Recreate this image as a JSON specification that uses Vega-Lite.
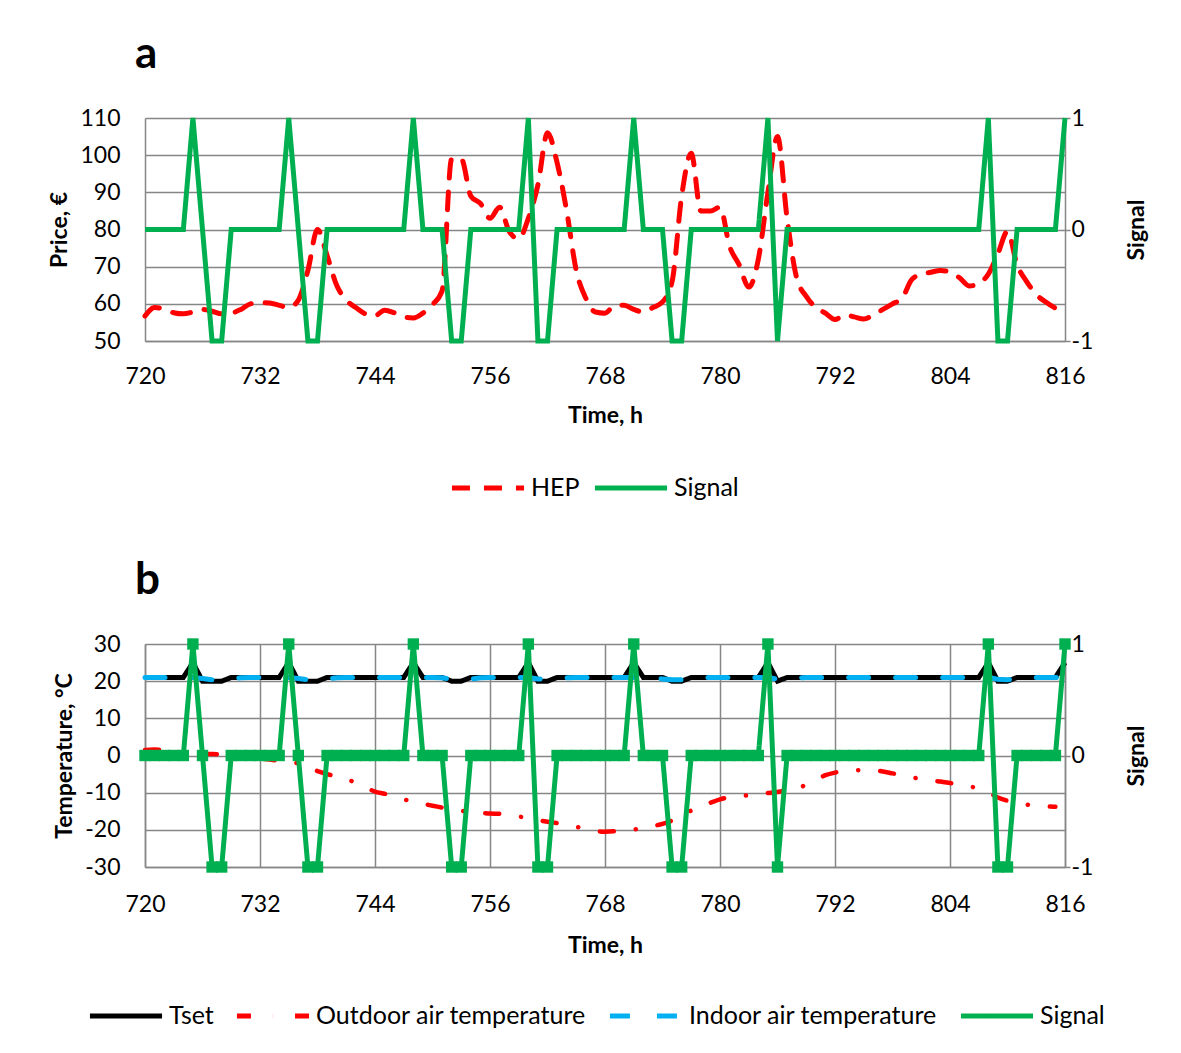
{
  "$schema": "https://vega.github.io/schema/vega-lite/v6.json",
  "background": "white",
  "padding": {"left": 48, "top": 33, "right": 5, "bottom": 5},
  "config": {
    "font": "Lato",
    "view": {"stroke": null},
    "axis": {
      "labelFont": "Lato", "labelFontSize": 23, "labelColor": "#000000",
      "titleFont": "Lato", "titleFontSize": 23, "titleFontWeight": "bold", "titleColor": "#000000",
      "gridColor": "#868686", "gridWidth": 1.5, "gridOpacity": 1,
      "domainColor": "#868686", "domainWidth": 1.5,
      "tickColor": "#868686", "tickWidth": 1.5, "ticks": false,
      "labelExpr": "'' + datum.value", "labelFlush": false, "labelOverlap": false
    },
    "legend": {
      "direction": "horizontal", "symbolType": "stroke",
      "symbolSize": 5200, "symbolStrokeWidth": 5, "labelFont": "Lato", "labelFontSize": 25,
      "labelColor": "#000000", "columnPadding": 12, "labelOffset": 4, "labelLimit": 400
    }
  },
  "datasets": {
    "hourly": [
      {"h":720,"hep":56.7,"sig":0,"tset":21,"tin":21,"tout":1.5},
      {"h":721,"hep":59,"sig":0,"tset":21,"tin":21,"tout":1.6},
      {"h":722,"hep":58.6,"sig":0,"tset":21,"tin":21,"tout":1.4},
      {"h":723,"hep":57.6,"sig":0,"tset":21,"tin":21,"tout":1.2},
      {"h":724,"hep":57.3,"sig":0,"tset":21,"tin":21,"tout":0.8},
      {"h":725,"hep":57.8,"sig":1,"tset":25,"tin":21,"tout":0.5},
      {"h":726,"hep":58.5,"sig":0,"tset":20,"tin":20.7,"tout":0.4},
      {"h":727,"hep":58,"sig":-1,"tset":20,"tin":20.4,"tout":0.4},
      {"h":728,"hep":57.3,"sig":-1,"tset":20,"tin":20.4,"tout":0.2},
      {"h":729,"hep":57.5,"sig":0,"tset":21,"tin":20.6,"tout":0},
      {"h":730,"hep":58.5,"sig":0,"tset":21,"tin":20.9,"tout":-0.2},
      {"h":731,"hep":60,"sig":0,"tset":21,"tin":21,"tout":-0.5},
      {"h":732,"hep":60.3,"sig":0,"tset":21,"tin":21,"tout":-0.8},
      {"h":733,"hep":60.2,"sig":0,"tset":21,"tin":21,"tout":-1.1},
      {"h":734,"hep":59.6,"sig":0,"tset":21,"tin":21,"tout":-1.4},
      {"h":735,"hep":59,"sig":1,"tset":25,"tin":21,"tout":-1.8},
      {"h":736,"hep":61,"sig":0,"tset":20,"tin":20.7,"tout":-2.1},
      {"h":737,"hep":69,"sig":-1,"tset":20,"tin":20.4,"tout":-3},
      {"h":738,"hep":80,"sig":-1,"tset":20,"tin":20.4,"tout":-4.2},
      {"h":739,"hep":73,"sig":0,"tset":21,"tin":20.6,"tout":-5},
      {"h":740,"hep":65,"sig":0,"tset":21,"tin":20.9,"tout":-5.7},
      {"h":741,"hep":61,"sig":0,"tset":21,"tin":21,"tout":-6.3},
      {"h":742,"hep":59,"sig":0,"tset":21,"tin":21,"tout":-7.4},
      {"h":743,"hep":57.3,"sig":0,"tset":21,"tin":21,"tout":-8.6},
      {"h":744,"hep":56.8,"sig":0,"tset":21,"tin":21,"tout":-9.7},
      {"h":745,"hep":58.3,"sig":0,"tset":21,"tin":21,"tout":-10.3},
      {"h":746,"hep":57.6,"sig":0,"tset":21,"tin":21,"tout":-11},
      {"h":747,"hep":56.5,"sig":0,"tset":21,"tin":21,"tout":-11.8},
      {"h":748,"hep":56.2,"sig":1,"tset":25,"tin":21,"tout":-12.4},
      {"h":749,"hep":57.5,"sig":0,"tset":21,"tin":21,"tout":-13},
      {"h":750,"hep":59.8,"sig":0,"tset":21,"tin":21,"tout":-13.5},
      {"h":751,"hep":63.5,"sig":0,"tset":21,"tin":20.9,"tout":-14},
      {"h":752,"hep":99,"sig":-1,"tset":20,"tin":20.5,"tout":-14.5},
      {"h":753,"hep":99,"sig":-1,"tset":20,"tin":20.4,"tout":-14.9},
      {"h":754,"hep":89,"sig":0,"tset":21,"tin":20.6,"tout":-15.2},
      {"h":755,"hep":87,"sig":0,"tset":21,"tin":20.9,"tout":-15.4},
      {"h":756,"hep":83,"sig":0,"tset":21,"tin":21,"tout":-15.6},
      {"h":757,"hep":86,"sig":0,"tset":21,"tin":21,"tout":-15.7},
      {"h":758,"hep":79.5,"sig":0,"tset":21,"tin":21,"tout":-16},
      {"h":759,"hep":77.5,"sig":0,"tset":21,"tin":21,"tout":-16.4},
      {"h":760,"hep":83,"sig":1,"tset":25,"tin":21,"tout":-16.9},
      {"h":761,"hep":92,"sig":-1,"tset":20,"tin":20.6,"tout":-17.4},
      {"h":762,"hep":106,"sig":-1,"tset":20,"tin":20.4,"tout":-17.8},
      {"h":763,"hep":98,"sig":0,"tset":21,"tin":20.6,"tout":-18.2},
      {"h":764,"hep":85,"sig":0,"tset":21,"tin":20.9,"tout":-18.7},
      {"h":765,"hep":69,"sig":0,"tset":21,"tin":21,"tout":-19.2},
      {"h":766,"hep":61.5,"sig":0,"tset":21,"tin":21,"tout":-19.8},
      {"h":767,"hep":57.8,"sig":0,"tset":21,"tin":21,"tout":-20.3},
      {"h":768,"hep":57.5,"sig":0,"tset":21,"tin":21,"tout":-20.5},
      {"h":769,"hep":59.5,"sig":0,"tset":21,"tin":21,"tout":-20.4},
      {"h":770,"hep":59.6,"sig":0,"tset":21,"tin":21,"tout":-20.2},
      {"h":771,"hep":58.5,"sig":1,"tset":25,"tin":21,"tout":-19.9},
      {"h":772,"hep":57.8,"sig":0,"tset":21,"tin":20.9,"tout":-19.5},
      {"h":773,"hep":59,"sig":0,"tset":21,"tin":20.8,"tout":-19},
      {"h":774,"hep":60.5,"sig":0,"tset":21,"tin":20.6,"tout":-18.4},
      {"h":775,"hep":66,"sig":-1,"tset":20,"tin":20.4,"tout":-17.5},
      {"h":776,"hep":89,"sig":-1,"tset":20,"tin":20.4,"tout":-16.2},
      {"h":777,"hep":100.5,"sig":0,"tset":21,"tin":20.6,"tout":-14.8},
      {"h":778,"hep":85,"sig":0,"tset":21,"tin":20.9,"tout":-13.6},
      {"h":779,"hep":85,"sig":0,"tset":21,"tin":21,"tout":-12.7},
      {"h":780,"hep":86,"sig":0,"tset":21,"tin":21,"tout":-11.8},
      {"h":781,"hep":75.5,"sig":0,"tset":21,"tin":21,"tout":-11.2},
      {"h":782,"hep":70.5,"sig":0,"tset":21,"tin":21,"tout":-10.9},
      {"h":783,"hep":64.5,"sig":0,"tset":21,"tin":21,"tout":-10.7},
      {"h":784,"hep":72,"sig":0,"tset":21,"tin":21,"tout":-10.4},
      {"h":785,"hep":90,"sig":1,"tset":25,"tin":21,"tout":-10.1},
      {"h":786,"hep":105,"sig":-1,"tset":20,"tin":20.5,"tout":-9.8},
      {"h":787,"hep":83,"sig":0,"tset":21,"tin":20.6,"tout":-9.4},
      {"h":788,"hep":67,"sig":0,"tset":21,"tin":20.9,"tout":-8.8},
      {"h":789,"hep":62,"sig":0,"tset":21,"tin":21,"tout":-7.9},
      {"h":790,"hep":59,"sig":0,"tset":21,"tin":21,"tout":-6.6},
      {"h":791,"hep":57.5,"sig":0,"tset":21,"tin":21,"tout":-5.3},
      {"h":792,"hep":55.8,"sig":0,"tset":21,"tin":21,"tout":-4.6},
      {"h":793,"hep":57,"sig":0,"tset":21,"tin":21,"tout":-4.2},
      {"h":794,"hep":56.5,"sig":0,"tset":21,"tin":21,"tout":-4},
      {"h":795,"hep":55.9,"sig":0,"tset":21,"tin":21,"tout":-3.9},
      {"h":796,"hep":57,"sig":0,"tset":21,"tin":21,"tout":-4},
      {"h":797,"hep":58.5,"sig":0,"tset":21,"tin":21,"tout":-4.3},
      {"h":798,"hep":60,"sig":0,"tset":21,"tin":21,"tout":-4.8},
      {"h":799,"hep":61.5,"sig":0,"tset":21,"tin":21,"tout":-5.3},
      {"h":800,"hep":66.5,"sig":0,"tset":21,"tin":21,"tout":-5.9},
      {"h":801,"hep":68,"sig":0,"tset":21,"tin":21,"tout":-6.3},
      {"h":802,"hep":68.5,"sig":0,"tset":21,"tin":21,"tout":-6.7},
      {"h":803,"hep":69,"sig":0,"tset":21,"tin":21,"tout":-7},
      {"h":804,"hep":68.5,"sig":0,"tset":21,"tin":21,"tout":-7.4},
      {"h":805,"hep":67,"sig":0,"tset":21,"tin":21,"tout":-7.8},
      {"h":806,"hep":64.8,"sig":0,"tset":21,"tin":21,"tout":-8.3},
      {"h":807,"hep":65.5,"sig":0,"tset":21,"tin":21,"tout":-8.9},
      {"h":808,"hep":68,"sig":1,"tset":25,"tin":21,"tout":-9.9},
      {"h":809,"hep":73.5,"sig":-1,"tset":20,"tin":20.5,"tout":-11.3},
      {"h":810,"hep":79.5,"sig":-1,"tset":20,"tin":20.4,"tout":-12.2},
      {"h":811,"hep":70.5,"sig":0,"tset":21,"tin":20.6,"tout":-12.9},
      {"h":812,"hep":66,"sig":0,"tset":21,"tin":20.9,"tout":-13.2},
      {"h":813,"hep":62.5,"sig":0,"tset":21,"tin":21,"tout":-13.5},
      {"h":814,"hep":60.5,"sig":0,"tset":21,"tin":21,"tout":-13.7},
      {"h":815,"hep":58.8,"sig":0,"tset":21,"tin":21,"tout":-13.8},
      {"h":816,"hep":null,"sig":1,"tset":25,"tin":21,"tout":null}
    ]
  },
  "vconcat": [
    {
      "width": 920, "height": 223,
      "title": {"text": "a", "anchor": "start", "frame": "group", "fontSize": 44, "fontWeight": "bold", "font": "Lato", "color": "#000000", "offset": 30, "dx": -10},
      "data": {"name": "hourly"},
      "layer": [
        {
          "mark": {"type": "line", "strokeWidth": 5, "strokeCap": "round", "interpolate": "monotone"},
          "encoding": {
            "x": {"field": "h", "type": "quantitative", "scale": {"domain": [720, 816], "nice": false},
                  "axis": {"title": "Time, h", "values": [720,732,744,756,768,780,792,804,816], "grid": false, "labelPadding": 24, "titlePadding": 16}},
            "y": {"field": "hep", "type": "quantitative", "scale": {"domain": [50, 110], "nice": false, "zero": false},
                  "axis": {"title": "Price, €", "values": [50,60,70,80,90,100,110], "grid": true, "labelPadding": 25, "titlePadding": 8}},
            "color": {"datum": "HEP", "type": "nominal", "scale": {"domain": ["HEP", "Signal"], "range": ["#FF0000", "#00B050"]},
                      "legend": {"title": null, "orient": "none", "legendX": 304, "legendY": 331, "columnPadding": 4}},
            "strokeDash": {"datum": "HEP", "type": "nominal", "scale": {"domain": ["HEP", "Signal"], "range": [[18, 14], [1, 0]]},
                      "legend": {"title": null, "orient": "none", "legendX": 304, "legendY": 331, "columnPadding": 4}}
          }
        },
        {
          "mark": {"type": "line", "strokeWidth": 5},
          "encoding": {
            "x": {"field": "h", "type": "quantitative"},
            "y": {"field": "sig", "type": "quantitative", "scale": {"domain": [-1, 1], "nice": false},
                  "axis": {"title": "Signal", "orient": "right", "values": [-1, 0, 1], "grid": false, "ticks": true, "tickSize": 5, "labelPadding": 1, "titlePadding": 56, "titleAngle": 270}},
            "color": {"datum": "Signal", "type": "nominal"},
            "strokeDash": {"datum": "Signal", "type": "nominal"}
          }
        }
      ],
      "resolve": {"scale": {"y": "independent"}}
    },
    {
      "width": 920, "height": 223,
      "title": {"text": "b", "anchor": "start", "frame": "group", "fontSize": 44, "fontWeight": "bold", "font": "Lato", "color": "#000000", "offset": 30, "dx": -10},
      "data": {"name": "hourly"},
      "layer": [
        {
          "mark": {"type": "line", "strokeWidth": 5},
          "encoding": {
            "x": {"field": "h", "type": "quantitative", "scale": {"domain": [720, 816], "nice": false},
                  "axis": {"title": "Time, h", "values": [720,732,744,756,768,780,792,804,816], "grid": true, "labelPadding": 26, "titlePadding": 18}},
            "y": {"field": "tset", "type": "quantitative", "scale": {"domain": [-30, 30], "nice": false},
                  "axis": {"title": "Temperature, °C", "values": [-30,-20,-10,0,10,20,30], "grid": true, "labelPadding": 25, "titlePadding": 8}},
            "color": {"datum": "Tset", "type": "nominal", "scale": {"domain": ["Tset", "Outdoor air temperature", "Indoor air temperature", "Signal"], "range": ["#000000", "#FF0000", "#00B0F0", "#00B050"]},
                      "legend": {"title": null, "orient": "none", "legendX": -58, "legendY": 333}},
            "strokeDash": {"datum": "Tset", "type": "nominal", "scale": {"domain": ["Tset", "Outdoor air temperature", "Indoor air temperature", "Signal"], "range": [[1, 0], [14, 22, 0.1, 22], [20, 27], [1, 0]]},
                      "legend": {"title": null, "orient": "none", "legendX": -58, "legendY": 333}}
          }
        },
        {
          "mark": {"type": "line", "strokeWidth": 4.5, "strokeCap": "round", "interpolate": "monotone"},
          "encoding": {
            "x": {"field": "h", "type": "quantitative"},
            "y": {"field": "tout", "type": "quantitative", "scale": {"domain": [-30, 30], "nice": false}, "axis": null},
            "color": {"datum": "Outdoor air temperature", "type": "nominal"},
            "strokeDash": {"datum": "Outdoor air temperature", "type": "nominal"}
          }
        },
        {
          "mark": {"type": "line", "strokeWidth": 5, "strokeCap": "round"},
          "encoding": {
            "x": {"field": "h", "type": "quantitative"},
            "y": {"field": "tin", "type": "quantitative", "scale": {"domain": [-30, 30], "nice": false}, "axis": null},
            "color": {"datum": "Indoor air temperature", "type": "nominal"},
            "strokeDash": {"datum": "Indoor air temperature", "type": "nominal"}
          }
        },
        {
          "mark": {"type": "line", "strokeWidth": 5, "point": {"shape": "square", "size": 130, "filled": true, "color": "#00B050", "opacity": 1}},
          "encoding": {
            "x": {"field": "h", "type": "quantitative"},
            "y": {"field": "sig", "type": "quantitative", "scale": {"domain": [-1, 1], "nice": false},
                  "axis": {"title": "Signal", "orient": "right", "values": [-1, 0, 1], "grid": false, "ticks": true, "tickSize": 5, "labelPadding": 1, "titlePadding": 56, "titleAngle": 270}},
            "color": {"datum": "Signal", "type": "nominal"},
            "strokeDash": {"datum": "Signal", "type": "nominal"}
          }
        }
      ],
      "resolve": {"scale": {"y": "independent"}}
    }
  ],
  "spacing": 58,
  "resolve": {"scale": {"color": "independent", "strokeDash": "independent", "x": "independent"}}
}
